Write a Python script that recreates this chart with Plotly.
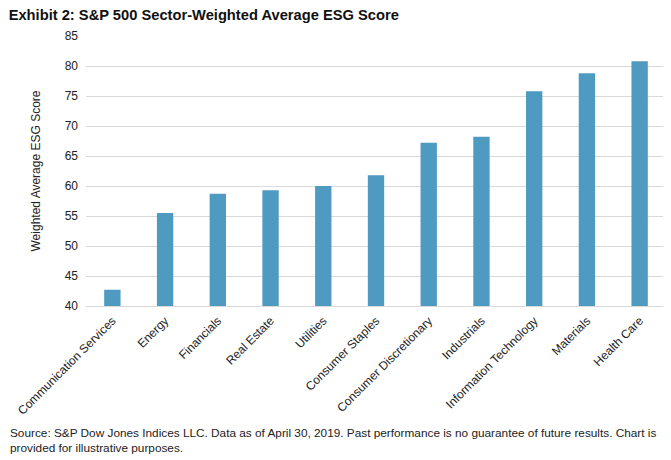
import plotly.graph_objects as go

categories = ["Communication Services", "Energy", "Financials", "Real Estate", "Utilities",
              "Consumer Staples", "Consumer Discretionary", "Industrials",
              "Information Technology", "Materials", "Health Care"]
scores = [42.7, 55.5, 58.7, 59.3, 60.0, 61.8, 67.2, 68.2, 75.8, 78.8, 80.8]
y_ticks = [40, 45, 50, 55, 60, 65, 70, 75, 80, 85]

FONT = "Liberation Sans, Arial, sans-serif"
OFF = 8  # page body margin offset
W, H = 671 - OFF, 460 - OFF
L, R, T, B = 86 - OFF, 5, 36 - OFF, 154
PH = H - T - B

fig = go.Figure(go.Bar(
    x=categories, y=scores, marker_color="#4F9AC1", marker_line_width=0,
    width=0.31,
))

fig.update_layout(
    width=W, height=H,
    margin=dict(l=L, r=R, t=T, b=B),
    paper_bgcolor="white", plot_bgcolor="white",
    font=dict(family=FONT, size=12, color="#222222"),
    showlegend=False,
    title=dict(text="<b>Exhibit 2: S&P 500 Sector-Weighted Average ESG Score</b>",
               xref="container", yref="container", x=0.001, xanchor="left",
               y=1 - (14.5 - OFF) / H, yanchor="middle",
               font=dict(family=FONT, size=14.7, color="#111111")),
    yaxis=dict(range=[40, 85], tickvals=y_ticks, showgrid=True, gridcolor="#D9D9D9",
               gridwidth=1, zeroline=False, showline=False, ticks="",
               ticklabelstandoff=7,
               title=dict(text="Weighted Average ESG Score", standoff=21,
                          font=dict(size=12))),
    xaxis=dict(tickangle=-45, showgrid=False, showline=True, linecolor="#D9D9D9",
               linewidth=1, ticks="", ticklabelstandoff=2),
)

fig.add_annotation(
    text="Source: S&P Dow Jones Indices LLC. Data as of April 30, 2019. Past performance is no guarantee of future results. Chart is<br>provided for illustrative purposes.",
    xref="paper", yref="paper", x=(8 - 86) / (W - L - R), y=(306 - 440) / PH,
    xanchor="left", yanchor="middle", align="left", showarrow=False,
    font=dict(family=FONT, size=11.8, color="#222222"),
)

fig.write_html("out.html")
